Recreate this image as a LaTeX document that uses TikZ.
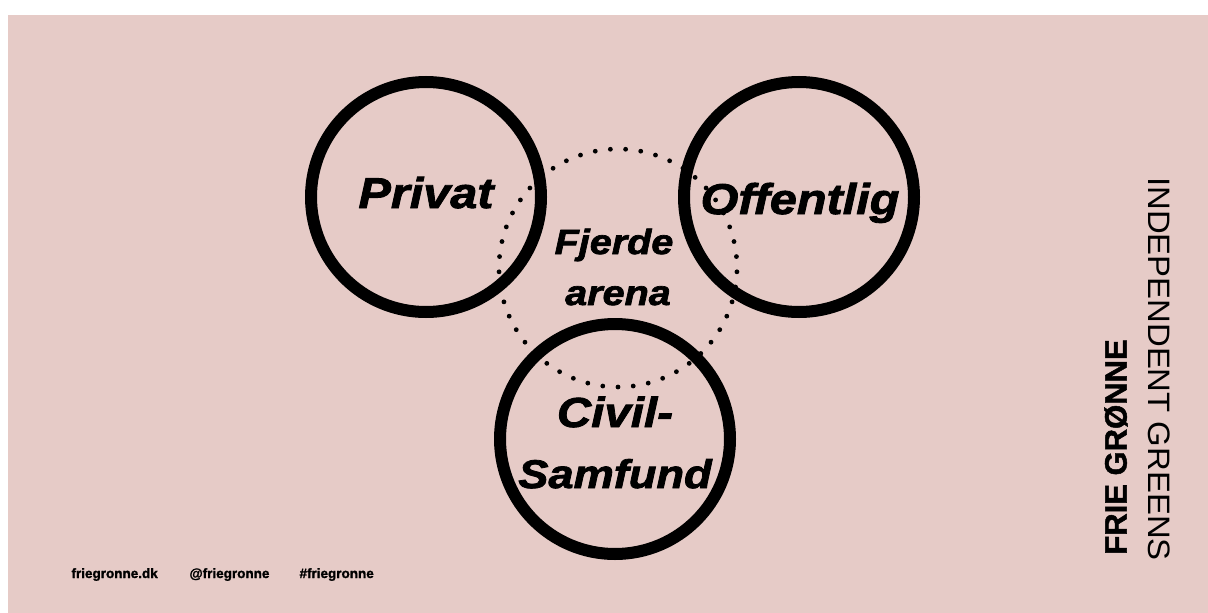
\documentclass[tikz,border=0pt]{standalone}
\usepackage{fontspec}
\setmainfont{Liberation Sans}
\newfontfamily\widefont[FakeStretch=1.13,BoldItalicFeatures={FakeBold=2}]{Liberation Sans}
\newfontfamily\heavyfont[BoldFeatures={FakeBold=1.5}]{Liberation Sans}
\newfontfamily\logofont[FakeStretch=1.06]{Liberation Sans}
\definecolor{pinkbg}{RGB}{230,203,199}
\tikzset{
  ring/.style={line width=12pt},
  arenalabel/.style={anchor=base,font=\widefont\bfseries\itshape\fontsize{43}{43}\selectfont},
  smalllabel/.style={anchor=base west,font=\heavyfont\bfseries\fontsize{13.5}{13.5}\selectfont},
}
\begin{document}
\begin{tikzpicture}[x=1pt,y=-1pt]
      \useasboundingbox (0,0) rectangle (1208,613);
      \fill[white] (0,0) rectangle (1208,613);
      \fill[pinkbg] (8,15) rectangle (1208,613);
      % the three sectors
      \draw[ring] (426,197) circle (115);
      \draw[ring] (799,197) circle (115);
      \draw[ring] (615,439) circle (115);
      % dotted fourth arena
      \coordinate (fourth) at (618,268);
      \foreach \a in {0,...,48}
        \fill[shift={(fourth)}] (90+7.3469*\a:119) circle (2.4);
      \node[arenalabel] (privat) at (426,208) {Privat};
      \node[arenalabel] (offentlig) at (800,214) {Offentlig};
      \node[arenalabel,font=\widefont\bfseries\itshape\fontsize{35}{35}\selectfont] (fjerde) at (614,254) {Fjerde};
      \node[arenalabel,font=\widefont\bfseries\itshape\fontsize{35}{35}\selectfont] (arena) at (618,305) {arena};
      \node[arenalabel,font=\widefont\bfseries\itshape\fontsize{42}{42}\selectfont] (civil) at (615,427) {Civil-};
      \node[arenalabel,font=\widefont\bfseries\itshape\fontsize{40}{40}\selectfont] (samfund) at (615,488) {Samfund};
      % footer
      \node[smalllabel] (web) at (68,578) {friegronne.dk};
      \node[smalllabel] (handle) at (186,578) {@friegronne};
      \node[smalllabel] (tag) at (296,578) {\#friegronne};
      % logo
      \node[rotate=90,font=\heavyfont\bfseries\fontsize{31}{31}\selectfont] (frie) at (1116,447) {FRIE GRØNNE};
      \node[rotate=-90,font=\logofont\fontsize{31}{31}\selectfont] (greens) at (1159,369) {INDEPENDENT GREENS};
    \end{tikzpicture}
\end{document}
